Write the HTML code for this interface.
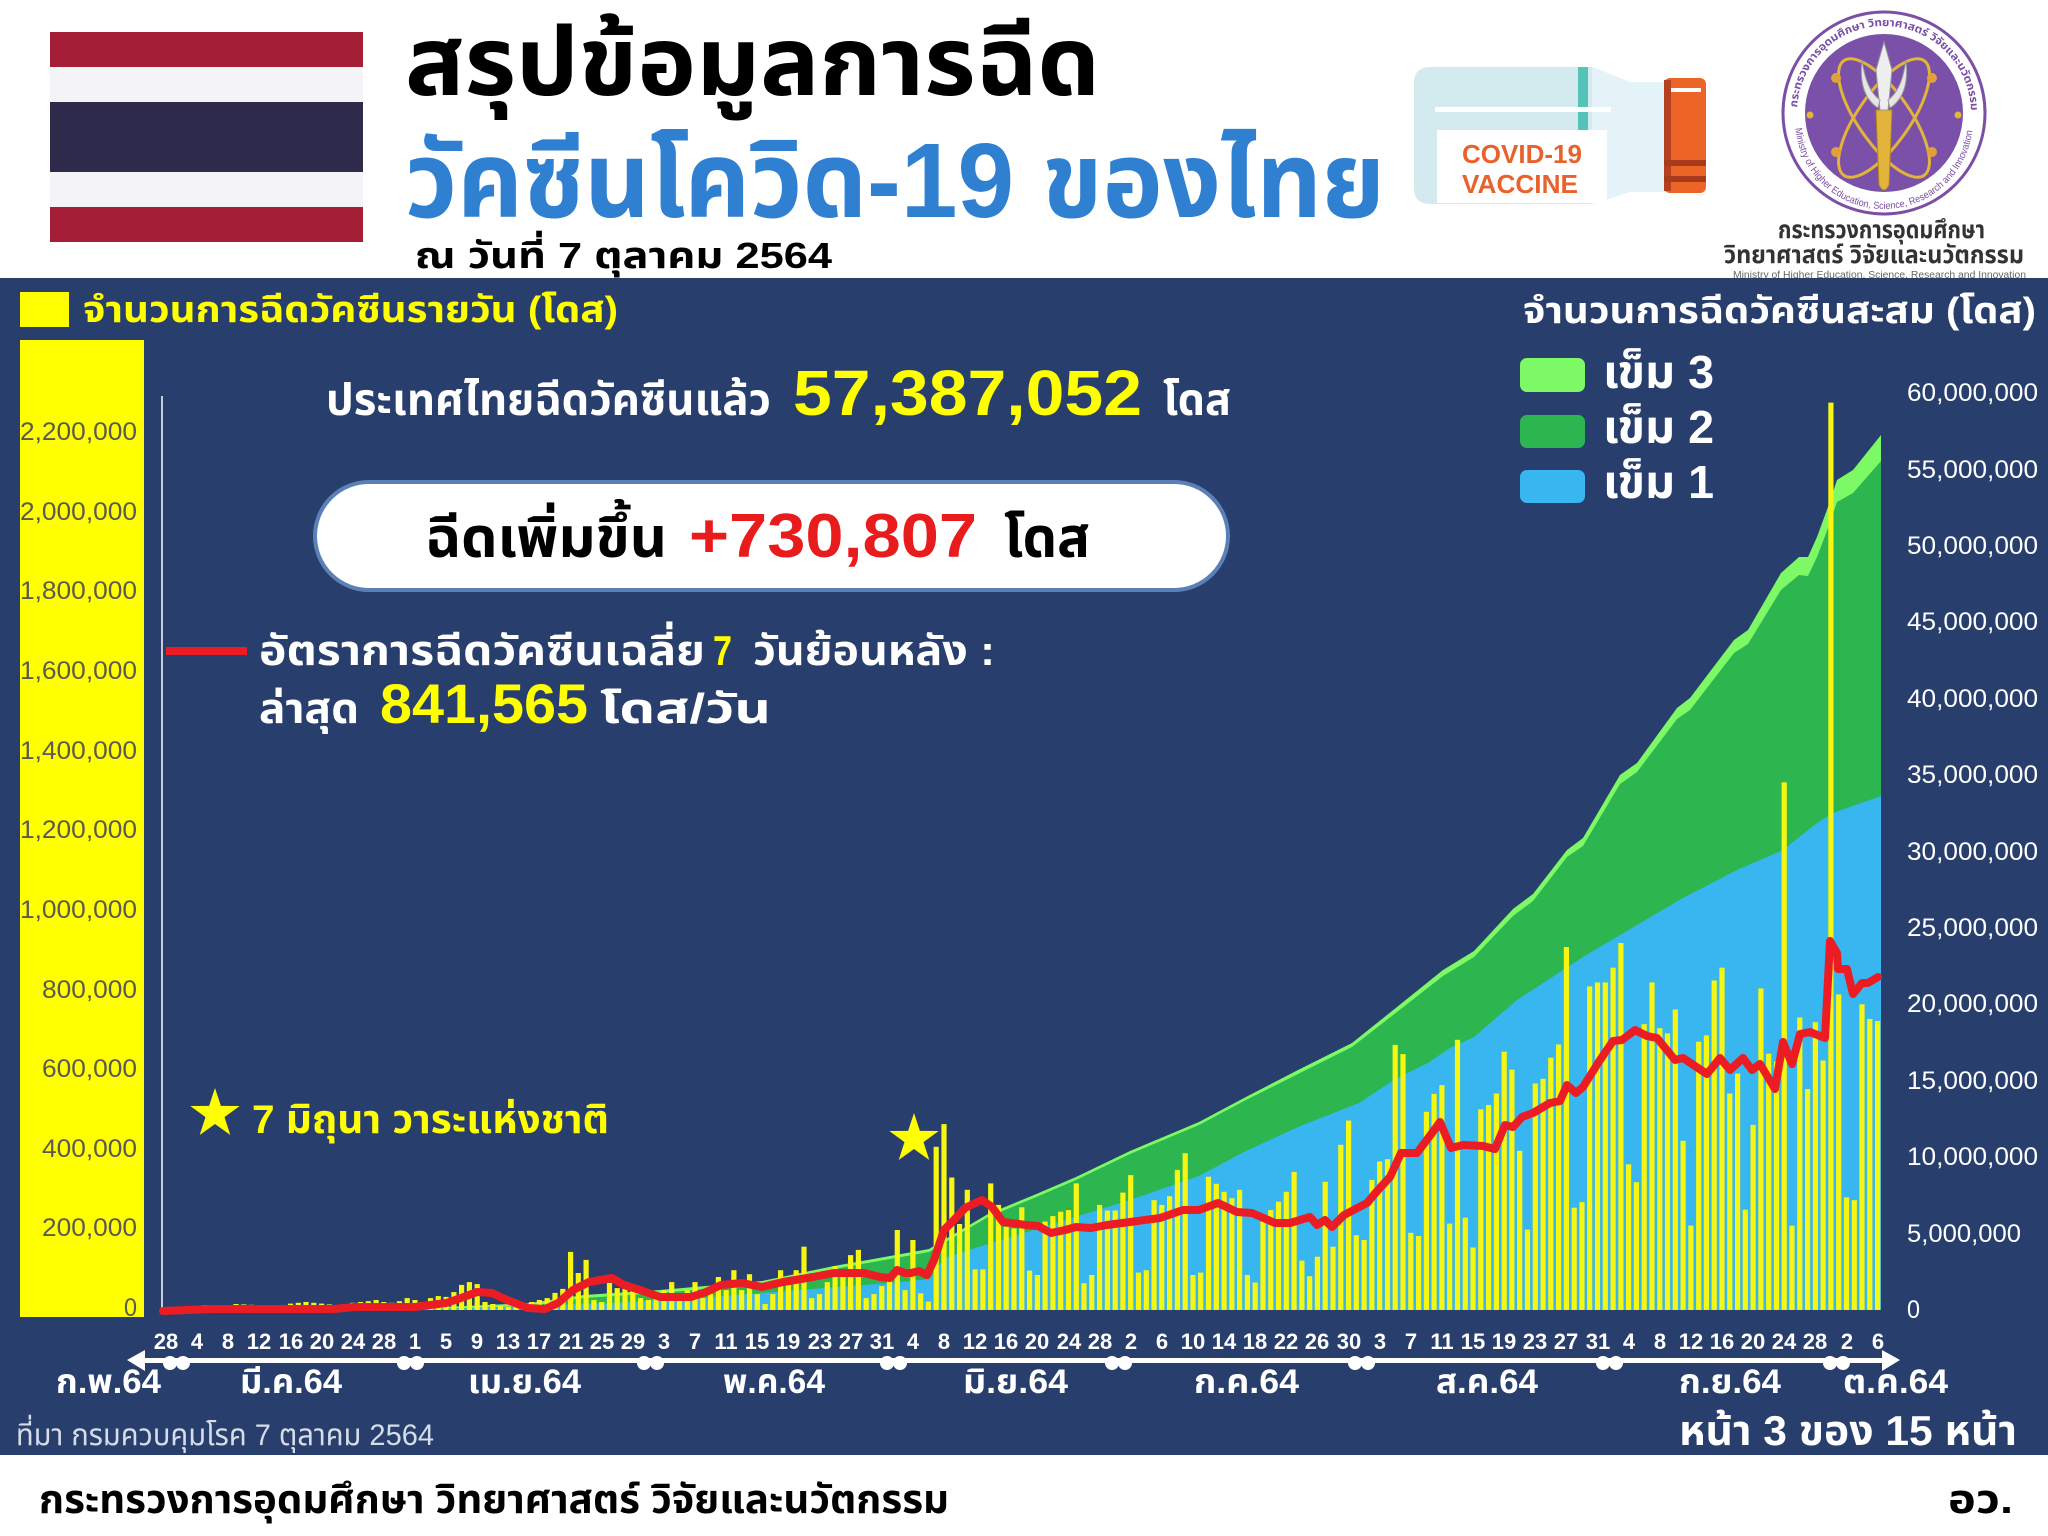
<!DOCTYPE html>
<html><head><meta charset="utf-8">
<style>
html,body{margin:0;padding:0;background:#fff;}
svg{display:block;}
.th{font-family:"Liberation Sans","Noto Sans Thai","Noto Sans Thai UI","Loma","Garuda","Norasi","Tlwg Typo","DejaVu Sans",sans-serif;font-weight:bold;}
.lt{font-family:"Liberation Sans","DejaVu Sans",sans-serif;}
</style></head>
<body>
<svg width="2048" height="1536" viewBox="0 0 2048 1536">
<rect width="2048" height="1536" fill="#ffffff"/>
<!-- Flag -->
<rect x="50" y="32" width="313" height="35" fill="#a41f35"/>
<rect x="50" y="67" width="313" height="35" fill="#f4f4f7"/>
<rect x="50" y="102" width="313" height="70" fill="#2d2a4b"/>
<rect x="50" y="172" width="313" height="35" fill="#f4f4f7"/>
<rect x="50" y="207" width="313" height="35" fill="#a41f35"/>
<!-- Titles -->
<text class="th" x="405" y="95" font-size="96" fill="#000" textLength="695" lengthAdjust="spacingAndGlyphs">สรุปข้อมูลการฉีด</text>
<text class="th" x="405" y="217" font-size="106" fill="#2f80d1" textLength="980" lengthAdjust="spacingAndGlyphs">วัคซีนโควิด-19 ของไทย</text>
<text class="th" x="415" y="268" font-size="36" fill="#000" textLength="417" lengthAdjust="spacingAndGlyphs">ณ วันที่ 7 ตุลาคม 2564</text>
<!-- Vaccine vial -->
<path d="M1430,67 H1592 L1630,82 H1666 V192 H1630 L1592,204 H1430 Q1414,204 1414,188 V83 Q1414,67 1430,67 Z" fill="#d3ebef"/>
<path d="M1592,67 L1630,82 H1666 V192 H1630 L1592,204 Z" fill="#e4f3f8"/>
<rect x="1578" y="67" width="10" height="63" fill="#55c3b8"/>
<rect x="1435" y="107" width="176" height="5" fill="#ffffff"/>
<rect x="1437" y="130" width="170" height="73" fill="#ffffff"/>
<text class="lt" x="1462" y="163" font-size="26" font-weight="bold" fill="#e8632b" textLength="120" lengthAdjust="spacingAndGlyphs">COVID-19</text>
<text class="lt" x="1462" y="193" font-size="26" font-weight="bold" fill="#e8632b" textLength="116" lengthAdjust="spacingAndGlyphs">VACCINE</text>
<rect x="1664" y="78" width="42" height="115" rx="6" fill="#ec6426"/>
<rect x="1664" y="80" width="7" height="111" fill="#b5401f"/>
<rect x="1671" y="88" width="30" height="4" fill="#ffffff"/>
<rect x="1664" y="160" width="42" height="6" fill="#a83a1c"/>
<rect x="1664" y="176" width="42" height="6" fill="#a83a1c"/>
<!-- Logo -->
<circle cx="1884" cy="113" r="101" fill="#ffffff" stroke="#7b4fa6" stroke-width="3"/>
<defs>
<path id="arcTop" d="M1797,113 A87,87 0 0 1 1971,113"/>
<path id="arcBot" d="M1795,120 A89,89 0 0 0 1973,120"/>
</defs>
<text class="th" font-size="11" fill="#7b4fa6"><textPath href="#arcTop" startOffset="2%" textLength="265" lengthAdjust="spacingAndGlyphs">กระทรวงการอุดมศึกษา วิทยาศาสตร์ วิจัยและนวัตกรรม</textPath></text>
<text class="lt" font-size="10" fill="#7b4fa6"><textPath href="#arcBot" startOffset="3%" textLength="260" lengthAdjust="spacingAndGlyphs">Ministry of Higher Education, Science, Research and Innovation</textPath></text>
<circle cx="1884" cy="113" r="79" fill="#7a50a8"/>
<g fill="none" stroke="#e2b43a" stroke-width="3">
<ellipse cx="1884" cy="118" rx="70" ry="26" transform="rotate(55 1884 118)"/>
<ellipse cx="1884" cy="118" rx="70" ry="26" transform="rotate(-55 1884 118)"/>
</g>
<circle cx="1810" cy="115" r="3.5" fill="#e2b43a"/>
<circle cx="1958" cy="115" r="3.5" fill="#e2b43a"/>
<circle cx="1836" cy="78" r="5" fill="#e2a03a"/>
<circle cx="1932" cy="78" r="5" fill="#e2a03a"/>
<circle cx="1836" cy="152" r="5" fill="#e2a03a"/>
<circle cx="1932" cy="152" r="5" fill="#e2a03a"/>
<path d="M1876,110 H1892 L1889,185 Q1884,195 1879,185 Z" fill="#e3b43c" stroke="#b5861c" stroke-width="1"/>
<path d="M1884,42 L1892,70 L1888,110 H1880 L1876,70 Z" fill="#eeeeee" stroke="#999" stroke-width="1"/>
<path d="M1862,60 Q1858,95 1878,108 L1880,100 Q1866,90 1862,60 Z" fill="#e6e6e6" stroke="#999" stroke-width="1"/>
<path d="M1906,60 Q1910,95 1890,108 L1888,100 Q1902,90 1906,60 Z" fill="#e6e6e6" stroke="#999" stroke-width="1"/>
<text class="th" x="1778" y="238" font-size="25" fill="#333" font-weight="normal" textLength="207" lengthAdjust="spacingAndGlyphs">กระทรวงการอุดมศึกษา</text>
<text class="th" x="1724" y="263" font-size="25" fill="#333" font-weight="normal" textLength="300" lengthAdjust="spacingAndGlyphs">วิทยาศาสตร์ วิจัยและนวัตกรรม</text>
<text class="lt" x="1733" y="278" font-size="10" fill="#666" textLength="293" lengthAdjust="spacingAndGlyphs">Ministry of Higher Education, Science, Research and Innovation</text>

<!-- Navy band -->
<rect x="0" y="278" width="2048" height="1177" fill="#283f6e"/>

<!-- Left legend & axis -->
<rect x="20" y="292" width="49" height="35" fill="#ffff00"/>
<text class="th" x="83" y="322" font-size="36" fill="#ffff00" textLength="535" lengthAdjust="spacingAndGlyphs">จำนวนการฉีดวัคซีนรายวัน (โดส)</text>
<rect x="20" y="340" width="124" height="977" fill="#ffff00"/>
<g class="lt" font-size="25" fill="#5a5a50" text-anchor="end">
<text x="137" y="440" textLength="117" lengthAdjust="spacingAndGlyphs">2,200,000</text>
<text x="137" y="520" textLength="117" lengthAdjust="spacingAndGlyphs">2,000,000</text>
<text x="137" y="599" textLength="117" lengthAdjust="spacingAndGlyphs">1,800,000</text>
<text x="137" y="679" textLength="117" lengthAdjust="spacingAndGlyphs">1,600,000</text>
<text x="137" y="759" textLength="117" lengthAdjust="spacingAndGlyphs">1,400,000</text>
<text x="137" y="838" textLength="117" lengthAdjust="spacingAndGlyphs">1,200,000</text>
<text x="137" y="918" textLength="117" lengthAdjust="spacingAndGlyphs">1,000,000</text>
<text x="137" y="998" textLength="95" lengthAdjust="spacingAndGlyphs">800,000</text>
<text x="137" y="1077" textLength="95" lengthAdjust="spacingAndGlyphs">600,000</text>
<text x="137" y="1157" textLength="95" lengthAdjust="spacingAndGlyphs">400,000</text>
<text x="137" y="1236" textLength="95" lengthAdjust="spacingAndGlyphs">200,000</text>
<text x="137" y="1316" textLength="13" lengthAdjust="spacingAndGlyphs">0</text>
</g>
<line x1="162" y1="396" x2="162" y2="1310" stroke="#c8ccd4" stroke-width="2"/>

<!-- Right legend & axis -->
<text class="th" x="1523" y="323" font-size="36" fill="#ffffff" textLength="513" lengthAdjust="spacingAndGlyphs">จำนวนการฉีดวัคซีนสะสม (โดส)</text>
<rect x="1520" y="358" width="65" height="34" rx="7" fill="#7cf965"/>
<rect x="1520" y="415" width="65" height="33" rx="7" fill="#2db650"/>
<rect x="1520" y="470" width="65" height="33" rx="7" fill="#38b6f0"/>
<text class="th" x="1603" y="388" font-size="46" fill="#fff" textLength="111" lengthAdjust="spacingAndGlyphs">เข็ม 3</text>
<text class="th" x="1603" y="443" font-size="46" fill="#fff" textLength="111" lengthAdjust="spacingAndGlyphs">เข็ม 2</text>
<text class="th" x="1603" y="498" font-size="46" fill="#fff" textLength="111" lengthAdjust="spacingAndGlyphs">เข็ม 1</text>
<g class="lt" font-size="25" fill="#ffffff">
<text x="1907" y="401" textLength="131" lengthAdjust="spacingAndGlyphs">60,000,000</text>
<text x="1907" y="478" textLength="131" lengthAdjust="spacingAndGlyphs">55,000,000</text>
<text x="1907" y="554" textLength="131" lengthAdjust="spacingAndGlyphs">50,000,000</text>
<text x="1907" y="630" textLength="131" lengthAdjust="spacingAndGlyphs">45,000,000</text>
<text x="1907" y="707" textLength="131" lengthAdjust="spacingAndGlyphs">40,000,000</text>
<text x="1907" y="783" textLength="131" lengthAdjust="spacingAndGlyphs">35,000,000</text>
<text x="1907" y="860" textLength="131" lengthAdjust="spacingAndGlyphs">30,000,000</text>
<text x="1907" y="936" textLength="131" lengthAdjust="spacingAndGlyphs">25,000,000</text>
<text x="1907" y="1012" textLength="131" lengthAdjust="spacingAndGlyphs">20,000,000</text>
<text x="1907" y="1089" textLength="131" lengthAdjust="spacingAndGlyphs">15,000,000</text>
<text x="1907" y="1165" textLength="131" lengthAdjust="spacingAndGlyphs">10,000,000</text>
<text x="1907" y="1242" textLength="114" lengthAdjust="spacingAndGlyphs">5,000,000</text>
<text x="1907" y="1318" textLength="13" lengthAdjust="spacingAndGlyphs">0</text>
</g>

<!-- Areas -->
<polygon fill="#7cf965" points="163,1310 400,1309 530,1303 584,1295 660,1290 762,1281 834,1266 890,1256 929,1249 944,1240 988,1214 1034,1195 1076,1177 1130,1151 1199,1122 1244,1098 1298,1070 1352,1043 1397,1007 1443,970 1474,951 1513,909 1533,894 1567,850 1583,838 1620,775 1637,763 1677,708 1690,698 1734,640 1748,630 1781,573 1799,557 1808,557 1817,537 1828,507 1837,480 1853,470 1881,435 1881,1310"/>
<polygon fill="#2db650" points="163,1310 400,1310 530,1306 584,1298 660,1293 762,1284 834,1269 890,1259 929,1252 944,1243 988,1217 1034,1198 1076,1180 1130,1154 1199,1125 1244,1101 1298,1074 1352,1047 1397,1012 1443,976 1474,957 1513,916 1533,901 1567,857 1583,846 1620,784 1637,772 1677,719 1690,710 1734,653 1748,644 1781,590 1799,575 1808,576 1817,557 1828,528 1837,502 1853,493 1881,461 1881,1310"/>
<polygon fill="#38b6f0" points="163,1310 450,1309 507,1307 609,1303 711,1297 813,1289 890,1283 930,1279 944,1258 988,1244 1072,1218 1130,1200 1199,1176 1244,1152 1298,1127 1359,1103 1397,1078 1428,1063 1450,1048 1474,1037 1517,1000 1583,957 1637,925 1683,898 1737,870 1783,850 1817,823 1833,813 1881,796 1881,1310"/>

<!-- Bars -->
<g id="bars" fill="#f6f612"></g>

<!-- 7-day average line -->
<path fill="none" stroke="#ec1c24" stroke-width="8" stroke-linejoin="round" stroke-linecap="round" d="M163,1311 L211,1309 L334,1309 L354,1307 L415,1307 L446,1303 L461,1298 L477,1292 L492,1293 L507,1300 L528,1308 L545,1309 L558,1303 L573,1290 L589,1282 L612,1278 L624,1285 L640,1290 L660,1297 L691,1297 L706,1292 L721,1285 L742,1283 L762,1287 L783,1282 L813,1277 L834,1273 L864,1273 L880,1277 L890,1278 L897,1270 L905,1273 L911,1273 L919,1271 L927,1275 L934,1260 L944,1230 L954,1220 L965,1208 L982,1200 L992,1207 L1003,1222 L1026,1225 L1038,1226 L1051,1233 L1065,1230 L1076,1227 L1091,1228 L1107,1225 L1130,1222 L1160,1218 L1183,1210 L1199,1210 L1218,1203 L1237,1212 L1252,1213 L1275,1223 L1290,1223 L1310,1217 L1317,1225 L1325,1220 L1332,1227 L1344,1215 L1367,1203 L1378,1190 L1390,1177 L1401,1153 L1417,1153 L1432,1133 L1440,1122 L1451,1148 L1463,1145 L1483,1146 L1495,1149 L1505,1125 L1513,1127 L1522,1117 L1533,1113 L1550,1103 L1560,1101 L1567,1085 L1576,1093 L1583,1087 L1600,1060 L1613,1041 L1622,1040 L1635,1030 L1647,1036 L1657,1038 L1675,1060 L1683,1058 L1695,1066 L1707,1074 L1720,1058 L1730,1070 L1743,1058 L1752,1070 L1760,1064 L1775,1089 L1783,1042 L1792,1064 L1800,1034 L1810,1032 L1825,1038 L1830,941 L1837,953 L1838,969 L1847,969 L1853,994 L1862,983 L1868,983 L1878,977"/>

<!-- Stars -->
<polygon fill="#ffff00" transform="translate(215,1114)" points="0,-26 5.88,-8.09 24.7,-8.03 9.51,3.09 15.3,21 0,10 -15.3,21 -9.51,3.09 -24.7,-8.03 -5.88,-8.09"/>
<polygon fill="#ffff00" transform="translate(914,1139)" points="0,-26 5.88,-8.09 24.7,-8.03 9.51,3.09 15.3,21 0,10 -15.3,21 -9.51,3.09 -24.7,-8.03 -5.88,-8.09"/>
<text class="th" x="252" y="1133" font-size="40" fill="#ffff00" textLength="357" lengthAdjust="spacingAndGlyphs">7 มิถุนา วาระแห่งชาติ</text>

<!-- Headline -->
<text class="th" x="326" y="415" font-size="44" fill="#fff" textLength="445" lengthAdjust="spacingAndGlyphs">ประเทศไทยฉีดวัคซีนแล้ว</text>
<text class="th" x="793" y="415" font-size="64" fill="#ffff00" textLength="349" lengthAdjust="spacingAndGlyphs">57,387,052</text>
<text class="th" x="1163" y="415" font-size="44" fill="#fff" textLength="68" lengthAdjust="spacingAndGlyphs">โดส</text>

<rect x="315" y="482" width="913" height="108" rx="54" fill="#ffffff" stroke="#5b80b8" stroke-width="4"/>
<text class="th" x="425" y="557" font-size="56" fill="#000" textLength="242" lengthAdjust="spacingAndGlyphs">ฉีดเพิ่มขึ้น</text>
<text class="th" x="689" y="557" font-size="62" fill="#e81c1c" textLength="288" lengthAdjust="spacingAndGlyphs">+730,807</text>
<text class="th" x="1004" y="557" font-size="56" fill="#000" textLength="86" lengthAdjust="spacingAndGlyphs">โดส</text>

<line x1="166" y1="651" x2="247" y2="651" stroke="#ec1c24" stroke-width="8"/>
<text class="th" x="259" y="665" font-size="42" fill="#fff" textLength="446" lengthAdjust="spacingAndGlyphs">อัตราการฉีดวัคซีนเฉลี่ย</text>
<text class="th" x="713" y="665" font-size="42" fill="#ffff00" textLength="19" lengthAdjust="spacingAndGlyphs">7</text>
<text class="th" x="753" y="665" font-size="42" fill="#fff" textLength="242" lengthAdjust="spacingAndGlyphs">วันย้อนหลัง :</text>
<text class="th" x="259" y="723" font-size="42" fill="#fff" textLength="100" lengthAdjust="spacingAndGlyphs">ล่าสุด</text>
<text class="th" x="380" y="723" font-size="56" fill="#ffff00" textLength="208" lengthAdjust="spacingAndGlyphs">841,565</text>
<text class="th" x="600" y="723" font-size="42" fill="#fff" textLength="171" lengthAdjust="spacingAndGlyphs">โดส/วัน</text>

<!-- X axis -->
<g class="lt" font-size="22" font-weight="bold" fill="#fff" text-anchor="middle">
<text x="166" y="1349">28</text><text x="197" y="1349">4</text><text x="228" y="1349">8</text><text x="259" y="1349">12</text><text x="291" y="1349">16</text><text x="322" y="1349">20</text><text x="353" y="1349">24</text><text x="384" y="1349">28</text>
<text x="415" y="1349">1</text><text x="446" y="1349">5</text><text x="477" y="1349">9</text><text x="508" y="1349">13</text><text x="539" y="1349">17</text><text x="571" y="1349">21</text><text x="602" y="1349">25</text><text x="633" y="1349">29</text>
<text x="664" y="1349">3</text><text x="695" y="1349">7</text><text x="726" y="1349">11</text><text x="757" y="1349">15</text><text x="788" y="1349">19</text><text x="820" y="1349">23</text><text x="851" y="1349">27</text><text x="882" y="1349">31</text>
<text x="913" y="1349">4</text><text x="944" y="1349">8</text><text x="975" y="1349">12</text><text x="1006" y="1349">16</text><text x="1037" y="1349">20</text><text x="1069" y="1349">24</text><text x="1100" y="1349">28</text>
<text x="1131" y="1349">2</text><text x="1162" y="1349">6</text><text x="1193" y="1349">10</text><text x="1224" y="1349">14</text><text x="1255" y="1349">18</text><text x="1286" y="1349">22</text><text x="1317" y="1349">26</text><text x="1349" y="1349">30</text>
<text x="1380" y="1349">3</text><text x="1411" y="1349">7</text><text x="1442" y="1349">11</text><text x="1473" y="1349">15</text><text x="1504" y="1349">19</text><text x="1535" y="1349">23</text><text x="1566" y="1349">27</text><text x="1598" y="1349">31</text>
<text x="1629" y="1349">4</text><text x="1660" y="1349">8</text><text x="1691" y="1349">12</text><text x="1722" y="1349">16</text><text x="1753" y="1349">20</text><text x="1784" y="1349">24</text><text x="1815" y="1349">28</text>
<text x="1847" y="1349">2</text><text x="1878" y="1349">6</text>
</g>
<rect x="140" y="1358" width="1745" height="5" fill="#ffffff"/>
<polygon points="127,1360 145,1350 145,1371" fill="#ffffff"/>
<polygon points="1900,1360 1882,1350 1882,1371" fill="#ffffff"/>
<g fill="#ffffff">
<circle cx="170" cy="1363" r="7"/><circle cx="183" cy="1363" r="7"/>
<circle cx="404" cy="1363" r="7"/><circle cx="417" cy="1363" r="7"/>
<circle cx="644" cy="1363" r="7"/><circle cx="657" cy="1363" r="7"/>
<circle cx="887" cy="1363" r="7"/><circle cx="900" cy="1363" r="7"/>
<circle cx="1112" cy="1363" r="7"/><circle cx="1125" cy="1363" r="7"/>
<circle cx="1355" cy="1363" r="7"/><circle cx="1368" cy="1363" r="7"/>
<circle cx="1603" cy="1363" r="7"/><circle cx="1616" cy="1363" r="7"/>
<circle cx="1830" cy="1363" r="7"/><circle cx="1843" cy="1363" r="7"/>
</g>
<g class="th" font-size="34" fill="#fff">
<text x="56" y="1393" textLength="105" lengthAdjust="spacingAndGlyphs">ก.พ.64</text>
<text x="240" y="1393" textLength="102" lengthAdjust="spacingAndGlyphs">มี.ค.64</text>
<text x="468" y="1393" textLength="113" lengthAdjust="spacingAndGlyphs">เม.ย.64</text>
<text x="723" y="1393" textLength="102" lengthAdjust="spacingAndGlyphs">พ.ค.64</text>
<text x="963" y="1393" textLength="105" lengthAdjust="spacingAndGlyphs">มิ.ย.64</text>
<text x="1194" y="1393" textLength="105" lengthAdjust="spacingAndGlyphs">ก.ค.64</text>
<text x="1436" y="1393" textLength="102" lengthAdjust="spacingAndGlyphs">ส.ค.64</text>
<text x="1679" y="1393" textLength="102" lengthAdjust="spacingAndGlyphs">ก.ย.64</text>
<text x="1843" y="1393" textLength="105" lengthAdjust="spacingAndGlyphs">ต.ค.64</text>
</g>
<text class="th" x="16" y="1445" font-size="30" font-weight="normal" fill="#d6dce8" style="font-weight:normal" textLength="418" lengthAdjust="spacingAndGlyphs">ที่มา กรมควบคุมโรค 7 ตุลาคม 2564</text>
<text class="th" x="1679" y="1445" font-size="42" fill="#fff" textLength="338" lengthAdjust="spacingAndGlyphs">หน้า 3 ของ 15 หน้า</text>

<!-- Footer -->
<text class="th" x="39" y="1513" font-size="40" fill="#000" textLength="910" lengthAdjust="spacingAndGlyphs">กระทรวงการอุดมศึกษา วิทยาศาสตร์ วิจัยและนวัตกรรม</text>
<text class="th" x="1948" y="1513" font-size="40" fill="#000" textLength="65" lengthAdjust="spacingAndGlyphs">อว.</text>
</svg>
<script>
(function(){
var D=[];for(var i=0;i<=220;i++)D.push(0);
function set(s,a){for(var i=0;i<a.length;i++)D[s+i]=a[i];}
set(0,[0.002,0.004,0.006,0.008,0.010,0.012,0.010,0.008,0.012,0.015,0.014,0.013,0.012,0.010,0.009,0.012,0.016,0.018,0.020,0.018,0.016,0.014,0.012,0.015,0.018,0.020,0.022,0.025,0.020,0.018,0.022,0.030]);
set(32,[0.025,0.020,0.030,0.035,0.033,0.045,0.063,0.070,0.065,0.020,0.015,0.010,0.008,0.010,0.015,0.020,0.025,0.030]);
set(50,[0.043,0.053,0.146,0.093,0.126,0.025,0.020,0.068,0.055,0.060,0.050]);
set(61,[0.030,0.025,0.040,0.050,0.070,0.030,0.050,0.070,0.030,0.040,0.083,0.050,0.100,0.050,0.090,0.040,0.015,0.040,0.100,0.070,0.100,0.159,0.030,0.040,0.070,0.110,0.090,0.138,0.151,0.030,0.040,0.060,0.090,0.201,0.050,0.176,0.042,0.021]);
set(99,[0.410,0.467,0.333,0.216,0.302,0.102,0.102,0.318,0.264,0.209,0.205,0.258,0.099,0.088,0.222,0.236,0.247,0.251,0.318,0.067,0.088,0.264,0.250,0.250,0.295,0.339,0.094,0.100,0.276,0.264,0.286,0.352,0.394,0.088,0.094,0.335,0.317,0.297,0.281,0.302,0.088,0.069,0.222,0.251,0.272,0.297,0.347,0.124,0.085,0.134,0.322,0.159,0.415,0.476,0.188,0.176,0.327,0.373,0.379,0.666,0.643,0.194,0.186,0.498,0.543,0.565,0.217,0.679,0.232,0.157,0.504,0.515,0.544]);
set(172,[0.649,0.604,0.400,0.202,0.569,0.581,0.634,0.667,0.912,0.257,0.271,0.813,0.823,0.823,0.860,0.922,0.366,0.321,0.718,0.823,0.708,0.695,0.755,0.425,0.212,0.674,0.690,0.828,0.860,0.544,0.594,0.252,0.465,0.808,0.644,0.624,1.326,0.212,0.735,0.555,0.723,0.627,2.28,0.793,0.283,0.276,0.768,0.731,0.726]);
var g=document.getElementById('bars');var ns=g.namespaceURI;
for(var d=0;d<=220;d++){var v=D[d];if(!(v>0))continue;var h=v*398;
var r=document.createElementNS(ns,'rect');
r.setAttribute('x',(166+7.78*d-2.6).toFixed(1));
r.setAttribute('y',(1310-h).toFixed(1));
r.setAttribute('width','5.2');
r.setAttribute('height',h.toFixed(1));
g.appendChild(r);}
})();
</script>
</body></html>
